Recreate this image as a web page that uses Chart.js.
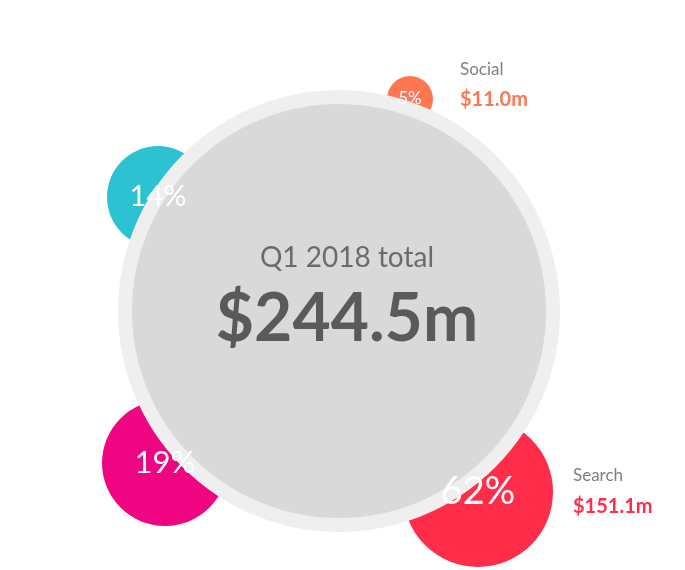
<!DOCTYPE html>
<html>
<head>
<meta charset="utf-8">
<script src="https://cdn.jsdelivr.net/npm/chart.js@4"></script>
<style>
  html, body { margin: 0; padding: 0; background: #fff; }
  #wrap { width: 685px; height: 570px; }
</style>
</head>
<body>
<div id="wrap"><canvas id="myChart"></canvas></div>
<script>
// channels and their share of the Q1 2018 total
const channels = ['Social', 'Other A', 'Other B', 'Search'];
const shares = [5, 14, 19, 62];
const amounts = ['$11.0m', null, null, '$151.1m'];
const colors = ['#FF7752', '#2CC2D1', '#EF0581', '#FF2D4A'];
// bubble positions and radii (chart units == pixels here)
const posX = [410, 158, 165, 478];
const posY = [99, 197, 463, 492];
const radii = [23, 51, 63, 75];
const labelSizes = [17, 29, 31, 38];

const totalLabel = 'Q1 2018 total';
const totalValue = '$244.5m';
const FONT = 'Lato, "Open Sans", sans-serif';

const textPlugin = {
    id: 'texts',
    afterDatasetsDraw(chart) {
        const ctx = chart.ctx;
        const xs = chart.scales.x, ys = chart.scales.y;
        ctx.save();
        ctx.textAlign = 'center';
        ctx.textBaseline = 'middle';
        // center total
        ctx.fillStyle = '#6b6b6b';
        ctx.font = '28px ' + FONT;
        ctx.fillText(totalLabel, xs.getPixelForValue(347), ys.getPixelForValue(258));
        ctx.fillStyle = '#5a5a5a';
        ctx.font = 'bold 66px ' + FONT;
        ctx.fillText(totalValue, xs.getPixelForValue(347), ys.getPixelForValue(320));
        // bubble percentages
        shares.forEach((s, i) => {
            ctx.fillStyle = '#fff';
            ctx.font = labelSizes[i] + 'px ' + FONT;
            ctx.fillText(s + '%', xs.getPixelForValue(posX[i]), ys.getPixelForValue(posY[i]));
        });
        // side annotations
        ctx.textAlign = 'left';
        [[0, 460, 70, 100], [3, 573, 476, 507]].forEach(([i, x, y1, y2]) => {
            ctx.fillStyle = '#7f7f7f';
            ctx.font = '17px ' + FONT;
            ctx.fillText(channels[i], x, y1);
            ctx.fillStyle = colors[i];
            ctx.font = 'bold 20px ' + FONT;
            ctx.fillText(amounts[i], x, y2);
        });
        ctx.restore();
    }
};

const ctx = document.getElementById('myChart');
new Chart(ctx, {
    type: 'bubble',
    data: {
        datasets: [
            {
                data: [{ x: 339, y: 311, r: 214 }],
                backgroundColor: '#D9D9D9',
                borderColor: '#EFEFEF',
                borderWidth: 14,
                clip: false
            },
            {
                data: shares.map((s, i) => ({ x: posX[i], y: posY[i], r: radii[i] })),
                backgroundColor: colors,
                borderWidth: 0,
                clip: false
            }
        ]
    },
    options: {
        responsive: true,
        maintainAspectRatio: false,
        animation: false,
        layout: { padding: 0, autoPadding: false },
        plugins: { legend: { display: false }, tooltip: { enabled: false } },
        scales: {
            x: { type: 'linear', min: 0, max: 685, display: false },
            y: { type: 'linear', min: 0, max: 570, reverse: true, display: false }
        }
    },
    plugins: [textPlugin]
});
</script>
</body>
</html>
